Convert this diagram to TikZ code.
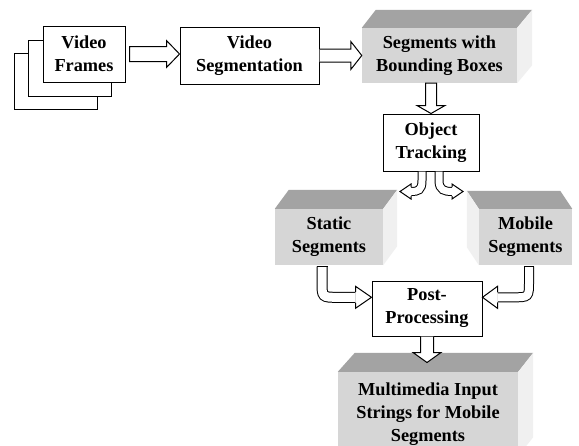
\documentclass[tikz,border=0pt]{standalone}
\usepackage{fontspec}
\setmainfont{Liberation Serif}
\usetikzlibrary{calc}
\definecolor{frontc}{gray}{0.84}
\definecolor{topc}{gray}{0.64}
\definecolor{sidec}{gray}{0.94}
\tikzset{
  txt/.style={align=center, inner sep=0pt, font=\bfseries\fontsize{18.3}{23}\selectfont},
  box/.style={txt, draw=black, line width=1pt, fill=white},
  face/.style={txt, fill=frontc, draw=none},
  topface/.style={fill=topc, draw=none},
  sideface/.style={fill=sidec, draw=none},
  barrow/.style={draw=black, line width=1pt, fill=white, line join=miter},
  cshaft/.style={draw=black, line width=1pt, double=white},
}
\begin{document}
\begin{tikzpicture}[x=1pt,y=-1pt]
\clip (0,0) rectangle (579,445);
\fill[white] (0,0) rectangle (579,445);

% ---- 3D boxes ----
\node[face, minimum width=155pt, minimum height=55pt] (sbb) at (439.5,55.5) {Segments with\\Bounding Boxes};
\fill[topface] (sbb.north west) -- ($(sbb.north west)+(14,-18)$) -- ($(sbb.north east)+(15,-18)$) -- (sbb.north east) -- cycle;
\fill[sideface] (sbb.north east) -- ($(sbb.north east)+(15,-18)$) -- ($(sbb.south east)+(15,-18)$) -- (sbb.south east) -- cycle;

\node[face, minimum width=108pt, minimum height=56pt] (st) at (329,237) {Static\\Segments};
\fill[topface] (st.north west) -- ($(st.north west)+(14,-19)$) -- ($(st.north east)+(14,-19)$) -- (st.north east) -- cycle;
\fill[sideface] (st.north east) -- ($(st.north east)+(14,-19)$) -- ($(st.south east)+(14,-19)$) -- (st.south east) -- cycle;

\node[face, minimum width=93pt, minimum height=56pt] (mb) at (525.5,237) {Mobile\\Segments};
\fill[topface] (mb.north west) -- ($(mb.north west)+(-12,-18)$) -- ($(mb.north east)+(-12,-18)$) -- (mb.north east) -- cycle;
\fill[sideface] (mb.north west) -- ($(mb.north west)+(-12,-18)$) -- ($(mb.south west)+(-12,-18)$) -- (mb.south west) -- cycle;

\node[face, minimum width=180pt, minimum height=84pt] (mm) at (428,414) {Multimedia Input\\Strings for Mobile\\Segments};
\fill[topface] (mm.north west) -- ($(mm.north west)+(17,-19)$) -- ($(mm.north east)+(15,-19)$) -- (mm.north east) -- cycle;
\fill[sideface] (mm.north east) -- ($(mm.north east)+(15,-19)$) -- ($(mm.south east)+(15,-19)$) -- (mm.south east) -- cycle;

% ---- plain boxes ----
\node[box, minimum width=83pt, minimum height=56pt] (vf3) at (55.5,81) {};
\node[box, minimum width=83pt, minimum height=56pt] (vf2) at (69.5,68) {};
\node[box, minimum width=82pt, minimum height=56pt] (vf) at (84,54) {Video\\Frames};
\node[box, minimum width=139pt, minimum height=57pt] (vs) at (249.5,55.5) {Video\\Segmentation};
\node[box, minimum width=96pt, minimum height=57pt] (ot) at (431,142.5) {Object\\Tracking};
\node[box, minimum width=110pt, minimum height=55pt] (pp) at (427,308.5) {Post-\\Processing};

% ---- straight block arrows ----
\coordinate (a1s) at ($(vf.east)+(4,0)$);
\coordinate (a1t) at (vs.west |- vf.east);
\draw[barrow] ($(a1s)+(0,-7.5)$) -- ($(a1t)+(-13,-7.5)$) -- ($(a1t)+(-13,-13.5)$) -- (a1t)
  -- ($(a1t)+(-13,13.5)$) -- ($(a1t)+(-13,7.5)$) -- ($(a1s)+(0,7.5)$) -- cycle;

\coordinate (a2t) at (sbb.west |- vs.east);
\draw[barrow] ($(vs.east)+(0,-6.5)$) -- ($(a2t)+(-11,-6.5)$) -- ($(a2t)+(-11,-14)$) -- (a2t)
  -- ($(a2t)+(-11,14)$) -- ($(a2t)+(-11,6.5)$) -- ($(vs.east)+(0,6.5)$);

\coordinate (a3s) at (ot.north |- sbb.south);
\draw[barrow] ($(a3s)+(-5.5,0)$) -- ($(ot.north)+(-5.5,-8)$) -- ($(ot.north)+(-14,-8)$) -- (ot.north)
  -- ($(ot.north)+(14,-8)$) -- ($(ot.north)+(5.5,-8)$) -- ($(a3s)+(5.5,0)$) -- cycle;

\coordinate (a4t) at ($(pp.south)+(0,26)$);
\draw[barrow] ($(pp.south)+(-6.5,0)$) -- ($(a4t)+(-6.5,-10)$) -- ($(a4t)+(-14,-10)$) -- (a4t)
  -- ($(a4t)+(14,-10)$) -- ($(a4t)+(6.5,-10)$) -- ($(pp.south)+(6.5,0)$);

% ---- curved split arrows from Object Tracking ----
\coordinate (s1a) at ($(ot.south)+(-9,0)$);
\coordinate (s1h) at ($(s1a)+(-11,20)$);
\draw[cshaft, double distance=7pt] (s1a) -- ($(s1a)+(0,9)$) .. controls ($(s1a)+(0,19)$) and ($(s1h)+(7,0)$) .. (s1h);
\draw[barrow] ($(s1h)+(0,-4.5)$) -- ($(s1h)+(0,-7.5)$) -- ($(s1h)+(-11,0)$) -- ($(s1h)+(0,7.5)$) -- ($(s1h)+(0,4.5)$);

\coordinate (s2a) at ($(ot.south)+(8,0)$);
\coordinate (s2h) at ($(s2a)+(13,20)$);
\draw[cshaft, double distance=7pt] (s2a) -- ($(s2a)+(0,9)$) .. controls ($(s2a)+(0,19)$) and ($(s2h)+(-7,0)$) .. (s2h);
\draw[barrow] ($(s2h)+(0,-4.5)$) -- ($(s2h)+(0,-7.5)$) -- ($(s2h)+(11,0)$) -- ($(s2h)+(0,7.5)$) -- ($(s2h)+(0,4.5)$);

% ---- curved merge arrows into Post-Processing ----
\coordinate (pinL) at ($(pp.north west)!0.3!(pp.south west)$);
\coordinate (m1a) at ($(st.south)+(-7,1.5)$);
\coordinate (m1h) at ($(pinL)+(-16,0)$);
\draw[cshaft, double distance=9pt] (m1a) -- ($(m1a |- m1h)+(0,-16)$) .. controls (m1a |- m1h) .. ($(m1a |- m1h)+(16,0)$) -- (m1h);
\draw[line width=1pt] ($(m1a)+(-5.5,0)$) -- ($(m1a)+(5.5,0)$);
\draw[barrow] ($(m1h)+(0,-5.5)$) -- ($(m1h)+(0,-11)$) -- (pinL) -- ($(m1h)+(0,11)$) -- ($(m1h)+(0,5.5)$);

\coordinate (pinR) at ($(pp.north east)!0.3!(pp.south east)$);
\coordinate (m2a) at ($(mb.south)+(3.5,1.5)$);
\coordinate (m2h) at ($(pinR)+(15,0)$);
\draw[cshaft, double distance=8pt] (m2a) -- ($(m2a |- m2h)+(0,-16)$) .. controls (m2a |- m2h) .. ($(m2a |- m2h)+(-16,0)$) -- (m2h);
\draw[line width=1pt] ($(m2a)+(-5,0)$) -- ($(m2a)+(5,0)$);
\draw[barrow] ($(m2h)+(0,-5)$) -- ($(m2h)+(0,-11)$) -- (pinR) -- ($(m2h)+(0,11)$) -- ($(m2h)+(0,5)$);
\end{tikzpicture}
\end{document}
